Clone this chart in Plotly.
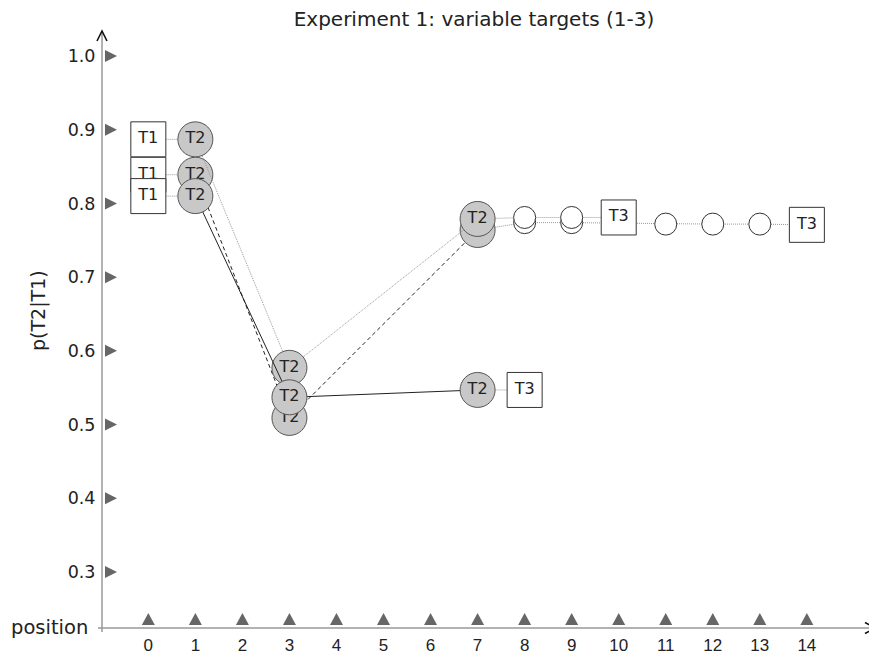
import plotly.graph_objects as go

# ---------------- data ----------------
title_text = "Experiment 1: variable targets (1-3)"
x_tick_vals = list(range(15))
x_tick_text = [str(v) for v in x_tick_vals]
y_tick_vals = [0.3, 0.4, 0.5, 0.6, 0.7, 0.8, 0.9, 1.0]
y_tick_text = ["0.3", "0.4", "0.5", "0.6", "0.7", "0.8", "0.9", "1.0"]
x_axis_name = "position"
y_axis_name = "p(T2|T1)"

# series A (solid)
a_t1_pos = [0]
a_t1_val = [0.810]
a_t2_pos = [1, 3, 7]
a_t2_val = [0.810, 0.537, 0.547]
a_free_pos = []
a_free_val = []
a_t3_pos = [8]
a_t3_val = [0.547]

# series B (dashed)
b_t1_pos = [0]
b_t1_val = [0.839]
b_t2_pos = [1, 3, 7]
b_t2_val = [0.839, 0.509, 0.764]
b_free_pos = [8, 9, 10, 11, 12, 13]
b_free_val = [0.774, 0.774, 0.773, 0.772, 0.772, 0.772]
b_t3_pos = [14]
b_t3_val = [0.771]

# series C (dotted)
c_t1_pos = [0]
c_t1_val = [0.887]
c_t2_pos = [1, 3, 7]
c_t2_val = [0.887, 0.577, 0.779]
c_free_pos = [8, 9]
c_free_val = [0.781, 0.781]
c_t3_pos = [10]
c_t3_val = [0.781]

# ---------------- layout geometry ----------------
OFF = 8  # page body margin
W, H = 869, 649
L, R, T, B = 94, 1, 23, 29
PW, PH = W - L - R, H - T - B
X_RANGE = [-0.985, 15.47]
Y_RANGE = [0.224, 1.034]

FONT = "DejaVu Sans"
GRAY_LINE = "#999999"
TXT = "#222222"

fig = go.Figure()


def add_series(t1p, t1v, t2p, t2v, fp, fv, t3p, t3v, color, dash):
    fig.add_trace(go.Scatter(x=t1p + t2p[:1], y=t1v + t2v[:1], mode="lines",
                             line=dict(color=GRAY_LINE, width=1, dash="1px,1px"),
                             hoverinfo="skip", showlegend=False))
    fig.add_trace(go.Scatter(x=t2p, y=t2v, mode="lines",
                             line=dict(color=color, width=1, dash=dash),
                             hoverinfo="skip", showlegend=False))
    fig.add_trace(go.Scatter(x=t2p[-1:] + fp + t3p, y=t2v[-1:] + fv + t3v, mode="lines",
                             line=dict(color=GRAY_LINE, width=1, dash="1px,1px"),
                             hoverinfo="skip", showlegend=False))
    if fp:
        fig.add_trace(go.Scatter(x=fp, y=fv, mode="markers",
                                 marker=dict(symbol="circle", size=22, color="white",
                                             line=dict(color="#333333", width=1)),
                                 hoverinfo="skip", showlegend=False, cliponaxis=False))
    fig.add_trace(go.Scatter(x=t1p, y=t1v, mode="markers+text", text=["T1"] * len(t1p),
                             textposition="middle center",
                             textfont=dict(family=FONT, size=16, color=TXT),
                             marker=dict(symbol="square", size=35, color="white",
                                         line=dict(color="#333333", width=1)),
                             hoverinfo="skip", showlegend=False, cliponaxis=False))
    fig.add_trace(go.Scatter(x=t2p, y=t2v, mode="markers+text", text=["T2"] * len(t2p),
                             textposition="middle center",
                             textfont=dict(family=FONT, size=16, color=TXT),
                             marker=dict(symbol="circle", size=35, color="#c8c8c8",
                                         line=dict(color="#555555", width=1)),
                             hoverinfo="skip", showlegend=False, cliponaxis=False))
    fig.add_trace(go.Scatter(x=t3p, y=t3v, mode="markers+text", text=["T3"] * len(t3p),
                             textposition="middle center",
                             textfont=dict(family=FONT, size=16, color=TXT),
                             marker=dict(symbol="square", size=35, color="white",
                                         line=dict(color="#333333", width=1)),
                             hoverinfo="skip", showlegend=False, cliponaxis=False))


add_series(b_t1_pos, b_t1_val, b_t2_pos, b_t2_val, b_free_pos, b_free_val, b_t3_pos, b_t3_val,
           "#222222", "4px,3px")
add_series(c_t1_pos, c_t1_val, c_t2_pos, c_t2_val, c_free_pos, c_free_val, c_t3_pos, c_t3_val,
           GRAY_LINE, "1px,1px")
add_series(a_t1_pos, a_t1_val, a_t2_pos, a_t2_val, a_free_pos, a_free_val, a_t3_pos, a_t3_val,
           "#222222", "solid")


def px(xp):
    # page pixel -> paper fraction
    return (xp - OFF - L) / PW


def py(yp):
    return (T + PH - (yp - OFF)) / PH


shapes = []
shapes.append(dict(type="line", xref="paper", yref="paper", x0=px(102), x1=px(102),
                   y0=py(632), y1=py(31), line=dict(color=GRAY_LINE, width=1.5), layer="below"))
shapes.append(dict(type="line", xref="paper", yref="paper", x0=px(98), x1=px(875),
                   y0=py(628), y1=py(628), line=dict(color=GRAY_LINE, width=1.5), layer="below"))
shapes.append(dict(type="path", xref="paper", yref="paper",
                   path=f"M {px(97)} {py(41)} L {px(102)} {py(31)} L {px(107)} {py(41)}",
                   line=dict(color="#111111", width=1.6)))
shapes.append(dict(type="path", xref="paper", yref="paper",
                   path=f"M {px(865)} {py(622.5)} L {px(875)} {py(628)} L {px(865)} {py(633.5)}",
                   line=dict(color="#111111", width=1.6)))
for v in y_tick_vals:
    shapes.append(dict(type="path", xref="x", yref="y", xsizemode="pixel", ysizemode="pixel",
                       xanchor=X_RANGE[0], yanchor=v,
                       path="M 3 6 L 15 0 L 3 -6 Z",
                       fillcolor="#666666", line=dict(width=0)))
for v in x_tick_vals:
    shapes.append(dict(type="path", xref="x", yref="y", xsizemode="pixel", ysizemode="pixel",
                       xanchor=v, yanchor=Y_RANGE[0],
                       path="M -6.5 3 L 0 15 L 6.5 3 Z",
                       fillcolor="#666666", line=dict(width=0)))

annotations = [
    dict(text=y_axis_name, xref="paper", yref="paper", x=px(38), y=py(311),
         xanchor="center", yanchor="middle", textangle=-90, showarrow=False,
         font=dict(family=FONT, size=19, color=TXT)),
    dict(text=x_axis_name, xref="paper", yref="paper", x=px(90), y=py(627),
         xanchor="right", yanchor="middle", showarrow=False,
         font=dict(family=FONT, size=19.5, color=TXT)),
]

fig.update_layout(
    width=W, height=H,
    margin=dict(l=L, r=R, t=T, b=B, pad=0, autoexpand=False),
    paper_bgcolor="white", plot_bgcolor="white",
    title=dict(text=title_text, x=(474 - OFF) / W, xanchor="center",
               y=1 - (19 - OFF) / H, yanchor="middle",
               font=dict(family=FONT, size=20, color=TXT)),
    xaxis=dict(range=X_RANGE, showgrid=False, zeroline=False, showline=False, automargin=False,
               tickmode="array", tickvals=x_tick_vals, ticktext=x_tick_text,
               ticks="outside", ticklen=2, tickcolor="rgba(0,0,0,0)",
               tickfont=dict(family="Liberation Sans", size=17, color=TXT)),
    yaxis=dict(range=Y_RANGE, showgrid=False, zeroline=False, showline=False, automargin=False,
               tickmode="array", tickvals=y_tick_vals, ticktext=y_tick_text,
               ticks="outside", ticklen=2, tickcolor="rgba(0,0,0,0)",
               tickfont=dict(family=FONT, size=17.5, color=TXT)),
    shapes=shapes,
    annotations=annotations,
    showlegend=False,
)

fig.write_html("out.html")
